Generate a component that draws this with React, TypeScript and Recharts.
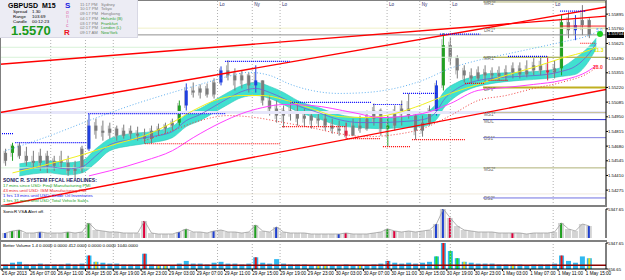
import React from "react";
import {
  ComposedChart,
  Bar,
  Line,
  Area,
  XAxis,
  YAxis,
  ReferenceLine,
} from "recharts";

const FONT = "'Liberation Sans', Arial, sans-serif";

// hourly bars, 26 Apr 03:00 (bar 0) .. 1 May 15:00 (bar 84), weekend removed
const opens = [
  1.54545, 1.54618, 1.54684, 1.54591, 1.54545, 1.54526, 1.54591, 1.54499, 1.54545, 1.54526,
  1.54452, 1.54471, 1.54656, 1.54869, 1.54822, 1.54803, 1.54841, 1.54776, 1.54822, 1.54794,
  1.54776, 1.54748, 1.54822, 1.54841, 1.54869, 1.54896, 1.55054, 1.55192, 1.55173, 1.55211,
  1.55155, 1.55266, 1.55377, 1.55331, 1.55285, 1.55331, 1.55239, 1.55285, 1.551, 1.55026,
  1.54961, 1.55007, 1.54988, 1.54933, 1.54961, 1.54915, 1.54933, 1.54869, 1.54841, 1.54822,
  1.54776, 1.54869, 1.54841, 1.54933, 1.55007, 1.54841, 1.54869, 1.54988, 1.55026, 1.54961,
  1.54822, 1.54896, 1.55007, 1.55239, 1.55609, 1.55489, 1.55377, 1.55331, 1.55303, 1.55359,
  1.55331, 1.5535, 1.55322, 1.55359, 1.55396, 1.5534, 1.55377, 1.55424, 1.55377, 1.55359,
  1.55396, 1.55821, 1.55747, 1.55794, 1.5584,
];
const highs = [
  1.54656, 1.54711, 1.54711, 1.54674, 1.54637, 1.54656, 1.54637, 1.54591, 1.54637, 1.54591,
  1.54545, 1.54684, 1.54979, 1.54933, 1.54915, 1.54896, 1.54869, 1.54878, 1.54869, 1.54859,
  1.54841, 1.54869, 1.54887, 1.54896, 1.54933, 1.551, 1.55257, 1.55266, 1.55248, 1.55257,
  1.55304, 1.55414, 1.5547, 1.55396, 1.55377, 1.55359, 1.55424, 1.55285, 1.55146, 1.551,
  1.55054, 1.551, 1.55081, 1.55026, 1.55007, 1.54988, 1.54988, 1.54933, 1.54915, 1.54896,
  1.54933, 1.54961, 1.55007, 1.55072, 1.55026, 1.54961, 1.55054, 1.551, 1.55164, 1.54988,
  1.54961, 1.55054, 1.55285, 1.55719, 1.55674, 1.55516, 1.55424, 1.55396, 1.55414, 1.55424,
  1.55405, 1.55414, 1.55424, 1.55451, 1.55451, 1.5547, 1.55489, 1.55507, 1.55507, 1.5547,
  1.55886, 1.55913, 1.55886, 1.55978, 1.55858,
];
const lows = [
  1.54499, 1.54545, 1.54563, 1.54499, 1.54471, 1.54452, 1.54433, 1.54452, 1.54471, 1.54406,
  1.54387, 1.54433, 1.54637, 1.54748, 1.5473, 1.54748, 1.5473, 1.54748, 1.54748, 1.5473,
  1.54702, 1.54702, 1.54776, 1.54794, 1.54822, 1.54869, 1.55007, 1.55127, 1.55118, 1.55127,
  1.55118, 1.55239, 1.55285, 1.55192, 1.55211, 1.55173, 1.55173, 1.55054, 1.54961, 1.54896,
  1.5485, 1.54915, 1.54869, 1.54859, 1.54841, 1.54859, 1.54822, 1.54794, 1.54776, 1.54748,
  1.54785, 1.54803, 1.54822, 1.54869, 1.54776, 1.54674, 1.54822, 1.54869, 1.54933, 1.54739,
  1.54767, 1.54869, 1.54961, 1.55192, 1.55424, 1.55303, 1.55266, 1.55257, 1.55285, 1.55266,
  1.55285, 1.55285, 1.55285, 1.55303, 1.55303, 1.55313, 1.55331, 1.55331, 1.55285, 1.55303,
  1.55331, 1.55674, 1.55655, 1.55701, 1.55674,
];
const closes = [
  1.54618, 1.54684, 1.54591, 1.54545, 1.54526, 1.54591, 1.54499, 1.54545, 1.54526, 1.54452,
  1.54471, 1.54656, 1.54869, 1.54822, 1.54803, 1.54841, 1.54776, 1.54822, 1.54794, 1.54776,
  1.54748, 1.54822, 1.54841, 1.54869, 1.54896, 1.55054, 1.55192, 1.55173, 1.55211, 1.55155,
  1.55266, 1.55377, 1.55331, 1.55285, 1.55331, 1.55239, 1.55285, 1.551, 1.55026, 1.54961,
  1.55007, 1.54988, 1.54933, 1.54961, 1.54915, 1.54933, 1.54869, 1.54841, 1.54822, 1.54776,
  1.54869, 1.54841, 1.54933, 1.55007, 1.54841, 1.54869, 1.54988, 1.55026, 1.54961, 1.54822,
  1.54896, 1.55007, 1.55239, 1.55609, 1.55489, 1.55377, 1.55331, 1.55303, 1.55359, 1.55331,
  1.5535, 1.55322, 1.55359, 1.55396, 1.5534, 1.55377, 1.55424, 1.55377, 1.55359, 1.55396,
  1.55821, 1.55747, 1.55794, 1.5584, 1.55704,
];
const volumes = [
  1467, 1791, 1953, 1467, 1467, 1629, 1467, 1467, 1467, 1629,
  1467, 1629, 3087, 1953, 1791, 1629, 1629, 1467, 1467, 1467,
  3411, 1467, 1305, 1305, 1305, 1629, 2115, 1629, 1629, 1467,
  1791, 1953, 1629, 1629, 1467, 1629, 2763, 1791, 1629, 2439,
  1629, 1467, 1467, 1467, 1305, 1305, 1305, 1305, 1305, 1467,
  1305, 1305, 1305, 1467, 1629, 2115, 1791, 1629, 1791, 1629,
  1791, 1953, 2925, 5347.65, 3897, 2601, 1953, 1791, 1629, 1629,
  1629, 1467, 1467, 1467, 1467, 1305, 1467, 1467, 1467, 1629,
  3087, 2115, 1791, 2925, 2601,
];
const betterVolAvg = 1340;

const candleTint: Record<number, string> = {
  1: "#22a022", 12: "#2040e0", 25: "#22a022", 26: "#2040e0", 31: "#2040e0",
  36: "#2040e0", 49: "#e02040", 55: "#22a022", 62: "#2040e0", 63: "#22a022",
  78: "#e02040", 80: "#22a022", 82: "#2040e0",
};
const vsaTint: Record<number, string> = {
  0: "#2040d0", 1: "#20a020", 2: "#20a020", 5: "#2040d0", 9: "#20a020", 12: "#20a020",
  20: "#e0003c", 25: "#2040d0", 26: "#20a020", 30: "#2040d0", 36: "#20a020", 39: "#2040d0",
  48: "#2040d0", 49: "#e0003c", 55: "#20a020", 56: "#e0003c", 62: "#2040d0", 63: "#2040d0",
  64: "#e0003c", 73: "#e0003c", 80: "#20a020", 84: "#2040d0",
};
const bvTint: Record<number, string> = {
  12: "#f01010", 20: "#f01010", 36: "#f01010", 55: "#f01010", 63: "#f01010", 80: "#f01010",
  62: "#22dd22", 64: "#22dd22", 65: "#22dd22",
  13: "#e8e020", 22: "#e8e020", 23: "#e8e020", 45: "#e8e020", 46: "#e8e020", 51: "#e8e020",
  66: "#e8e020", 73: "#e8e020", 84: "#e8e020",
};

// Sonic R dragon (EMA34 high / low / close), read at a few bars
const bandBars = [2, 6, 9, 11, 13, 15, 18, 21, 24, 26, 28, 30, 32, 34, 36, 38, 40, 42, 45, 48, 51, 54, 57, 60, 62, 63, 65, 67, 70, 74, 78, 80, 82, 84, 85];
const bandTop = [1.54517, 1.54545, 1.54527, 1.54545, 1.54656, 1.54749, 1.54795, 1.54813, 1.5486, 1.54971, 1.55026, 1.551, 1.55174, 1.55239, 1.55267, 1.5523, 1.55174, 1.551, 1.55035, 1.54971, 1.54943, 1.54943, 1.54952, 1.5498, 1.55072, 1.55174, 1.55267, 1.55313, 1.5535, 1.55359, 1.55378, 1.55405, 1.55489, 1.556, 1.55674];
const bandBottom = [1.54406, 1.54434, 1.54416, 1.54434, 1.54527, 1.54638, 1.54684, 1.54712, 1.54758, 1.5486, 1.54915, 1.54989, 1.55063, 1.55128, 1.55146, 1.55119, 1.55063, 1.54998, 1.54934, 1.54869, 1.5485, 1.54841, 1.5485, 1.5486, 1.54924, 1.55026, 1.55146, 1.55211, 1.55257, 1.55285, 1.55304, 1.55322, 1.55341, 1.5547, 1.55581];
const bandMid = [1.54462, 1.5449, 1.54471, 1.5449, 1.54591, 1.54693, 1.54739, 1.54767, 1.54813, 1.54915, 1.54971, 1.55045, 1.55119, 1.55183, 1.55211, 1.55174, 1.55119, 1.55054, 1.54989, 1.54924, 1.54897, 1.54897, 1.54906, 1.54924, 1.54998, 1.551, 1.55211, 1.55267, 1.55304, 1.55322, 1.55341, 1.55368, 1.55415, 1.55535, 1.55627];

const yellowBars = [1, 8, 12, 16, 20, 24, 27, 31, 34, 37, 40, 44, 48, 52, 56, 60, 64, 68, 72, 76, 80, 84, 85];
const yellowLine = [1.54434, 1.54545, 1.54619, 1.54702, 1.54776, 1.54897, 1.55008, 1.55119, 1.55146, 1.55146, 1.55109, 1.55026, 1.54952, 1.54943, 1.5498, 1.55063, 1.55165, 1.55248, 1.55331, 1.55405, 1.55489, 1.55563, 1.5559];

const magentaBars = [12, 15, 20, 24, 27, 31, 34, 37, 40, 44, 50, 54, 60, 64, 68, 72, 76, 80, 84, 85];
const magentaLine = [1.54406, 1.54453, 1.54545, 1.54638, 1.54758, 1.54897, 1.5498, 1.55035, 1.55063, 1.55054, 1.54989, 1.54943, 1.5498, 1.55072, 1.55193, 1.5522, 1.55248, 1.55285, 1.55378, 1.55424];

const upperBars = [0, 6, 12, 18, 24, 28, 32, 35, 38, 41, 44, 48, 52, 56, 60, 64, 68, 72, 76, 80, 84, 85];
const upperDots = [1.54638, 1.54767, 1.54915, 1.55054, 1.55174, 1.55248, 1.55322, 1.55359, 1.55331, 1.55248, 1.55193, 1.55165, 1.55174, 1.55211, 1.55285, 1.55396, 1.5547, 1.55526, 1.55581, 1.55637, 1.55701, 1.55729];

const lowerBars = [20, 24, 28, 32, 36, 40, 44, 48, 52, 56, 60, 64, 68, 72, 76, 80, 84, 85];
const lowerDots = [1.5473, 1.54823, 1.54915, 1.54961, 1.54943, 1.54897, 1.5485, 1.54795, 1.54767, 1.54786, 1.54841, 1.54961, 1.551, 1.55146, 1.55211, 1.55267, 1.55359, 1.55405];

// dotted swing levels: [from bar, to bar, price]
const resistance = [
  [-0.3, 1.6, 1.54795], [1.9, 12.2, 1.54712], [12.4, 32.1, 1.5498], [32.1, 41.4, 1.55461],
  [41.7, 53.2, 1.55082], [53.4, 57.6, 1.55063], [57.7, 62.6, 1.55165], [63, 68.8, 1.55711],
  [72.8, 78.4, 1.55507], [80.3, 83.9, 1.55923],
];
const support = [
  [20.6, 40, 1.54702], [40.3, 49.4, 1.5486], [49.6, 54.4, 1.54749], [54.8, 58.7, 1.54675],
  [59, 66.6, 1.54739], [66.6, 69.5, 1.55257], [70, 72.8, 1.55285], [83.2, 85.3, 1.55627],
];

// trend channel: [bar, price, bar, price]
const channel = [
  [-0.3, 1.55433, 86.9, 1.55877],
  [-0.3, 1.54989, 86.9, 1.5596],
  [-0.3, 1.54129, 86.9, 1.55202],
];

const pivotNames = ["MR2*", "DR1*", "MR1*", "DPV*", "MS1*", "MDL", "DS1*", "MS2*", "DS2*"];
const pivotLevels = [1.56007, 1.55766, 1.55498, 1.5522, 1.54989, 1.54924, 1.54758, 1.5448, 1.54203];
const pivotColors = ["#b0b070", "#d8d8a0", "#a0a030", "#c0b020", "#c8c098", "#3030d0", "#8080e0", "#c0b888", "#7070e0"];
const faintLevels = [1.55766, 1.5559, 1.55498, 1.54989, 1.5448, 1.5424];
const faintColors = ["#f0f0c8", "#d8f2d8", "#d8f2d8", "#e6e6fa", "#d8f2d8", "#f0eadc"];

const sessionBars = [7, 12, 16, 31, 36, 40, 55.4, 60.1, 64.5, 79.3];
const sessionNames = ["Lo", "Ny", "Lo", "Lo", "Ny", "Lo", "Lo", "Ny", "Lo", "Lo"];

const priceTicks = [1.5414, 1.54275, 1.5441, 1.54545, 1.5468, 1.54815, 1.5495, 1.55085, 1.5522, 1.55355, 1.5549, 1.55625, 1.5576, 1.55895];
const lastPrice = 1.55704;
const highLine = 1.55785;

const timeTicks = [0, 4, 8, 12, 16, 20, 24, 28, 32, 36, 40, 44, 48, 52, 56, 60, 64, 68, 72, 76, 80, 84];
const timeLabels = [
  "26 Apr 2013", "26 Apr 07:00", "26 Apr 11:00", "26 Apr 15:00", "26 Apr 19:00", "26 Apr 23:00",
  "29 Apr 03:00", "29 Apr 07:00", "29 Apr 11:00", "29 Apr 15:00", "29 Apr 19:00", "29 Apr 23:00",
  "30 Apr 03:00", "30 Apr 07:00", "30 Apr 11:00", "30 Apr 15:00", "30 Apr 19:00", "30 Apr 23:00",
  "1 May 03:00", "1 May 07:00", "1 May 11:00", "1 May 15:00",
];

const X_DOMAIN: [number, number] = [-0.3, 86.9];
const PRICE_DOMAIN: [number, number] = [1.54129, 1.56025];
const VOL_DOMAIN: [number, number] = [656.65, 5347.65];

const candles = opens.map((o, i) => ({
  t: i + 0.5,
  o,
  h: highs[i],
  l: lows[i],
  c: closes[i],
  range: [lows[i], highs[i]],
  vol: volumes[i],
}));
const bandData = bandBars.map((b, i) => ({ t: b + 0.5, band: [bandBottom[i], bandTop[i]], mid: bandMid[i] }));
const yellowData = yellowBars.map((b, i) => ({ t: b + 0.5, v: yellowLine[i] }));
const magentaData = magentaBars.map((b, i) => ({ t: b + 0.5, v: magentaLine[i] }));
const upperData = upperBars.map((b, i) => ({ t: b + 0.5, v: upperDots[i] }));
const lowerData = lowerBars.map((b, i) => ({ t: b + 0.5, v: lowerDots[i] }));

const Candle = (props: any) => {
  const { x, y, width, height, payload, index } = props;
  if (!payload) return null;
  const top = Math.min(y, y + height);
  const span = Math.abs(height);
  const { o, h, l, c } = payload;
  const py = (v: number) => top + ((h - v) / (h - l || 1e-9)) * span;
  const color = candleTint[index] ?? "#7c7c7c";
  const cx = x + width / 2;
  const b0 = py(Math.max(o, c));
  const b1 = py(Math.min(o, c));
  return (
    <g>
      <line x1={cx - 1.5} x2={cx - 1.5} y1={py(Math.max(o, c) + (h - Math.max(o, c)) * 0.5)} y2={py(Math.min(o, c) - (Math.min(o, c) - l) * 0.5)} stroke="#b4b4b4" strokeWidth={1} />
      <line x1={cx} x2={cx} y1={top} y2={top + span} stroke={color} strokeWidth={1} />
      <rect x={x} y={b0} width={width} height={Math.max(1, b1 - b0)} fill={color} />
    </g>
  );
};

// volume bar: base colour with a thin signal stripe where the bar is flagged
const volShape = (tints: Record<number, string>, base: string) => (props: any) => {
  const { x, y, width, height, index } = props;
  const tint = tints[index];
  const top = Math.min(y, y + height);
  const h = Math.abs(height);
  return (
    <g>
      <rect x={x} y={top} width={width} height={h} fill={base} />
      {tint ? <rect x={x + width / 2 - 1} y={top} width={2} height={h} fill={tint} /> : null}
    </g>
  );
};
const VsaBar = volShape(vsaTint, "#d4d4d4");
const BvBar = volShape(bvTint, "#30b8f0");

const TimeTick = (props: any) => {
  const { x, y, payload } = props;
  const i = timeTicks.indexOf(payload.value);
  return (
    <text x={x} y={y + 4} fontSize={4.6} fill="#000" fontFamily={FONT} textAnchor="start">
      {timeLabels[i]}
    </text>
  );
};

const sessionLines = (key: string) =>
  sessionBars.map((s) => (
    <ReferenceLine key={key + s} x={s} stroke="#b0b0b0" strokeDasharray="1 2" ifOverflow="hidden" />
  ));

const txt = (s: string, left: number, top: number, size: number, color: string, bold = false) => (
  <div
    style={{
      position: "absolute",
      left,
      top,
      fontSize: size,
      lineHeight: `${size}px`,
      color,
      fontWeight: bold ? 700 : 400,
      whiteSpace: "nowrap",
      fontFamily: FONT,
    }}
  >
    {s}
  </div>
);

const priceToY = (p: number) => 205 - ((p - PRICE_DOMAIN[0]) / (PRICE_DOMAIN[1] - PRICE_DOMAIN[0])) * 205;

export default function App() {
  return (
    <div style={{ position: "absolute", left: 0, top: 0, width: 625, height: 280, background: "#fff", overflow: "hidden" }}>
      {/* main price window */}
      <div style={{ position: "absolute", left: 0, top: 0 }}>
        <ComposedChart width={625} height={206} data={candles} margin={{ top: 0, right: 0, bottom: 0, left: 0 }}>
          <XAxis type="number" dataKey="t" domain={X_DOMAIN} hide allowDataOverflow />
          <YAxis
            orientation="right"
            width={19}
            domain={PRICE_DOMAIN}
            ticks={priceTicks}
            allowDataOverflow
            tickFormatter={(v: number) => v.toFixed(5)}
            tick={{ fontSize: 4.3, fill: "#000", fontFamily: FONT }}
            tickSize={2}
            tickMargin={0}
            axisLine={{ stroke: "#000" }}
            tickLine={{ stroke: "#000" }}
          />
          {faintLevels.map((p, i) => (
            <ReferenceLine key={"f" + i} y={p} stroke={faintColors[i]} strokeWidth={i === 3 ? 3 : 1} ifOverflow="hidden" />
          ))}
          {pivotLevels.map((p, i) => (
            <ReferenceLine
              key={"p" + i}
              segment={[{ x: 69.2, y: p }, { x: 86.9, y: p }]}
              stroke={pivotColors[i]}
              strokeWidth={i === 3 ? 2 : 1}
              ifOverflow="hidden"
            />
          ))}
          {sessionLines("m")}
          <ReferenceLine y={lastPrice} stroke="#909090" ifOverflow="hidden" />
          <ReferenceLine segment={[{ x: 80.3, y: highLine }, { x: 86.9, y: highLine }]} stroke="#ff2020" ifOverflow="hidden" />
          <Area
            data={bandData}
            dataKey="band"
            type="monotone"
            fill="#40e0d0"
            fillOpacity={1}
            stroke="#30c8b8"
            strokeWidth={0.6}
            isAnimationActive={false}
          />
          <Line data={bandData} dataKey="mid" type="monotone" stroke="#7060d0" strokeWidth={0.8} dot={false} isAnimationActive={false} />
          <Line data={yellowData} dataKey="v" type="monotone" stroke="#f0f020" strokeWidth={1} dot={false} isAnimationActive={false} />
          <Line data={magentaData} dataKey="v" type="monotone" stroke="#ff40ff" strokeWidth={1} dot={false} isAnimationActive={false} />
          <Line data={upperData} dataKey="v" type="monotone" stroke="#60b0f0" strokeWidth={1} strokeDasharray="1 2" dot={false} isAnimationActive={false} />
          <Line data={lowerData} dataKey="v" type="monotone" stroke="#f04040" strokeWidth={1} strokeDasharray="1 2" dot={false} isAnimationActive={false} />
          {channel.map((c, i) => (
            <ReferenceLine
              key={"c" + i}
              segment={[{ x: c[0], y: c[1] }, { x: c[2], y: c[3] }]}
              stroke="#ff0000"
              strokeWidth={1.4}
              ifOverflow="hidden"
            />
          ))}
          {resistance.map((r, i) => (
            <ReferenceLine
              key={"r" + i}
              segment={[{ x: r[0], y: r[2] }, { x: r[1], y: r[2] }]}
              stroke="#0000ff"
              strokeWidth={1.2}
              strokeDasharray="1 1"
              ifOverflow="hidden"
            />
          ))}
          {support.map((r, i) => (
            <ReferenceLine
              key={"s" + i}
              segment={[{ x: r[0], y: r[2] }, { x: r[1], y: r[2] }]}
              stroke="#ff0000"
              strokeWidth={1.2}
              strokeDasharray="1 1"
              ifOverflow="hidden"
            />
          ))}
          <Bar dataKey="range" barSize={3} shape={<Candle />} isAnimationActive={false} />
        </ComposedChart>
      </div>

      {/* Sonic R VSA window */}
      <div style={{ position: "absolute", left: 0, top: 207 }}>
        <ComposedChart width={625} height={33} data={candles} margin={{ top: 2, right: 0, bottom: 2, left: 0 }}>
          <XAxis type="number" dataKey="t" domain={X_DOMAIN} hide allowDataOverflow />
          <YAxis
            orientation="right"
            width={19}
            domain={VOL_DOMAIN}
            ticks={[656.65, 5347.65]}
            allowDataOverflow
            tickFormatter={(v: number) => v.toFixed(2)}
            tick={{ fontSize: 4.3, fill: "#000", fontFamily: FONT }}
            tickSize={2}
            tickMargin={0}
            axisLine={{ stroke: "#000" }}
            tickLine={{ stroke: "#000" }}
          />
          {sessionLines("v")}
          <Bar dataKey="vol" barSize={6} shape={VsaBar} isAnimationActive={false} />
          <Line dataKey="vol" type="linear" stroke="#a0a0a0" strokeWidth={0.8} dot={false} isAnimationActive={false} />
        </ComposedChart>
      </div>

      {/* Better Volume window + time axis */}
      <div style={{ position: "absolute", left: 0, top: 241 }}>
        <ComposedChart width={625} height={39} data={candles} margin={{ top: 2, right: 0, bottom: 0, left: 0 }}>
          <XAxis
            type="number"
            dataKey="t"
            domain={X_DOMAIN}
            ticks={timeTicks}
            interval={0}
            allowDataOverflow
            height={11}
            tick={<TimeTick />}
            tickSize={2}
            tickMargin={0}
            axisLine={{ stroke: "#000" }}
            tickLine={{ stroke: "#000" }}
          />
          <YAxis
            orientation="right"
            width={19}
            domain={VOL_DOMAIN}
            ticks={[656.65, 5347.65]}
            allowDataOverflow
            tickFormatter={(v: number) => v.toFixed(2)}
            tick={{ fontSize: 4.3, fill: "#000", fontFamily: FONT }}
            tickSize={2}
            tickMargin={0}
            axisLine={{ stroke: "#000" }}
            tickLine={{ stroke: "#000" }}
          />
          {sessionLines("b")}
          <Bar dataKey="vol" barSize={5} shape={BvBar} isAnimationActive={false} />
          <ReferenceLine y={betterVolAvg} stroke="#8b0000" strokeWidth={1.5} ifOverflow="hidden" />
        </ComposedChart>
      </div>

      {/* window separators */}
      <div style={{ position: "absolute", left: 0, top: 205, width: 607, height: 2, background: "#808080" }} />
      <div style={{ position: "absolute", left: 0, top: 240, width: 607, height: 2, background: "#808080" }} />
      <div style={{ position: "absolute", left: 0, top: 0, width: 607, height: 1, background: "#808080" }} />
      <div style={{ position: "absolute", left: 0, top: 0, width: 1, height: 269, background: "#808080" }} />

      {/* session labels */}
      {sessionBars.map((s, i) =>
        2 + s * 6.95 > 140 ? (
          <React.Fragment key={"sl" + i}>{txt(sessionNames[i], 2 + s * 6.95 + 2, 3, 4.6, "#303070")}</React.Fragment>
        ) : null
      )}

      {/* pivot labels */}
      {pivotNames.map((n, i) => (
        <React.Fragment key={"pl" + i}>{txt(n, 484, priceToY(pivotLevels[i]) + 0.5, 4.6, "#707070")}</React.Fragment>
      ))}

      {/* info panel */}
      <div style={{ position: "absolute", left: 0, top: 0, width: 137, height: 37, background: "#ececf4", borderRight: "1px solid #d8d8e4", borderBottom: "1px solid #d8d8e4" }} />
      {txt("GBPUSD", 8, 2, 7, "#000", true)}
      {txt("M15", 42, 2, 7, "#000", true)}
      {txt("Spread", 13, 9.5, 4.4, "#000")}
      {txt("1.30", 32, 9.5, 4.4, "#000")}
      {txt("Range", 13, 14.5, 4.4, "#000")}
      {txt("103.69", 32, 14.5, 4.4, "#000")}
      {txt("Candle", 13, 19.5, 4.4, "#000")}
      {txt("00:12:23", 32, 19.5, 4.4, "#000")}
      {txt("1.5570", 11, 24, 13, "#1a9a1a", true)}
      {txt("S", 65, 2, 8, "#2020e0", true)}
      {txt("o", 66, 9.5, 5, "#e070b0")}
      {txt("n", 66, 14, 5, "#e070b0")}
      {txt("i", 67, 18.5, 5, "#e070b0")}
      {txt("c", 66, 23, 5, "#e070b0")}
      {txt("R", 64, 28.5, 8, "#ee1020", true)}
      {[
        ["11:17 PM", "Sydney", "#808080"],
        ["10:17 PM", "Tokyo", "#808080"],
        ["09:17 PM", "Hongkong", "#808080"],
        ["04:17 PM", "Helsinki (B)", "#30a030"],
        ["03:17 PM", "Frankfurt", "#30a030"],
        ["02:17 PM", "London (L)", "#30a030"],
        ["09:17 AM", "NewYork", "#30a030"],
      ].map((r, i) => (
        <React.Fragment key={"tz" + i}>
          {txt(r[0], 80, 2.6 + i * 4.75, 4.2, "#808080")}
          {txt(r[1], 101, 2.6 + i * 4.75, 4.2, r[2])}
        </React.Fragment>
      ))}

      {/* headlines */}
      {txt("SONIC R. SYSTEM  FFCAL HEADLINES:", 3, 178, 5, "#202060", true)}
      {txt("17 mins since USD: Final Manufacturing PMI", 3, 183.5, 4.4, "#20a020")}
      {txt("43 mins until USD: ISM Manufacturing PMI", 3, 188.5, 4.4, "#ee2020")}
      {txt("1 hrs 13 mins until USD: Crude Oil Inventories", 3, 193.5, 4.4, "#2020ee")}
      {txt("1 hrs 31 mins until USD: Total Vehicle Sales", 3, 198.5, 4.4, "#20a020")}

      {/* right-hand markers */}
      {txt("5.0", 596, 28.5, 4.6, "#40a0ff")}
      {txt("11.3", 594, 48, 5, "#e8e800", true)}
      {txt("28.0", 593, 64.5, 5, "#ff3030", true)}
      <div style={{ position: "absolute", left: 597, top: 31, width: 6, height: 6, borderRadius: 3, background: "#20d020" }} />
      <div style={{ position: "absolute", left: 607, top: 31.5, width: 17, height: 6, background: "#000" }} />
      {txt("1.55704", 608, 32.4, 4.3, "#fff")}

      {/* sub-window captions */}
      {txt("SonicR VSA   Alert off.", 3, 210, 4.4, "#000")}
      {txt("Better Volume 1.4  0.0000 0.0000 412.0000 0.0000 0.0000 1040.0000", 3, 244, 4.4, "#000")}
    </div>
  );
}
